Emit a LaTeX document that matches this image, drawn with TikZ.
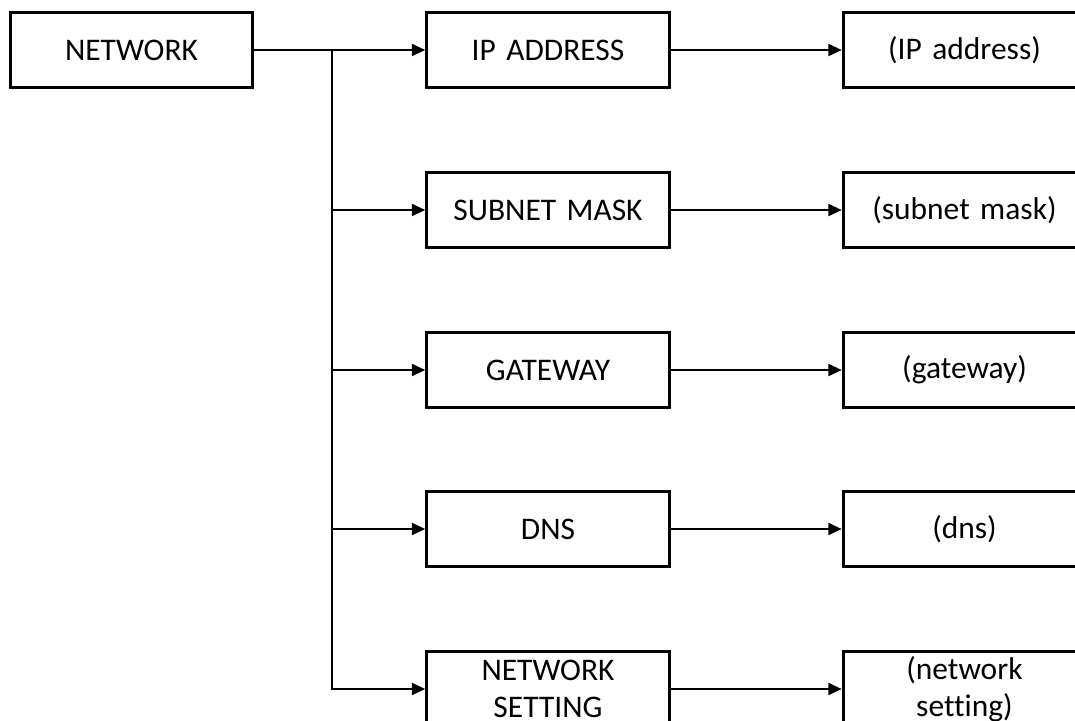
\documentclass[tikz,border=0pt]{standalone}
\usepackage{fontspec}
\setmainfont[Ligatures=NoCommon]{Carlito}
\usepackage{tikz}
\usetikzlibrary{arrows.meta,positioning,calc}

\begin{document}
\begin{tikzpicture}[
  x=0.75pt,y=-0.75pt,
  box/.style={draw, line width=2.2pt, align=center, text width=182pt, minimum height=56pt, inner sep=0pt, font=\fontsize{23.6}{27.8}\selectfont},
  arr/.style={-{Triangle[length=10pt,width=9pt]}, line width=1.5pt},
  trunk/.style={line width=1.5pt}
]
\useasboundingbox (0,0) rectangle (1075,721);
\clip (0,0) rectangle (1075,721);
\node[box] (net) at (131.5,50) {NETWORK};
\node[box] (ip) at (548,50) {IP ADDRESS};
\node[box] (mask) at (548,210) {SUBNET MASK};
\node[box] (gw) at (548,370) {GATEWAY};
\node[box] (dns) at (548,529) {DNS};
\node[box] (nset) at (548,689) {NETWORK\\SETTING};
\node[box] (ipv) at (964.5,50) {(IP address)};
\node[box] (maskv) at (964.5,210) {(subnet mask)};
\node[box] (gwv) at (964.5,370) {(gateway)};
\node[box] (dnsv) at (964.5,529) {(dns)};
\node[box] (nsetv) at (964.5,689) {(network\\setting)};
\coordinate (jt) at (332,50);
\draw[arr] (net) -- (ip);
\draw[arr] (jt) |- (nset);
\foreach \x in {mask,gw,dns}{\draw[arr] (jt |- \x) -- (\x);}
\foreach \x/\y in {ip/ipv,mask/maskv,gw/gwv,dns/dnsv,nset/nsetv}{\draw[arr] (\x) -- (\y);}
\end{tikzpicture}
\end{document}
